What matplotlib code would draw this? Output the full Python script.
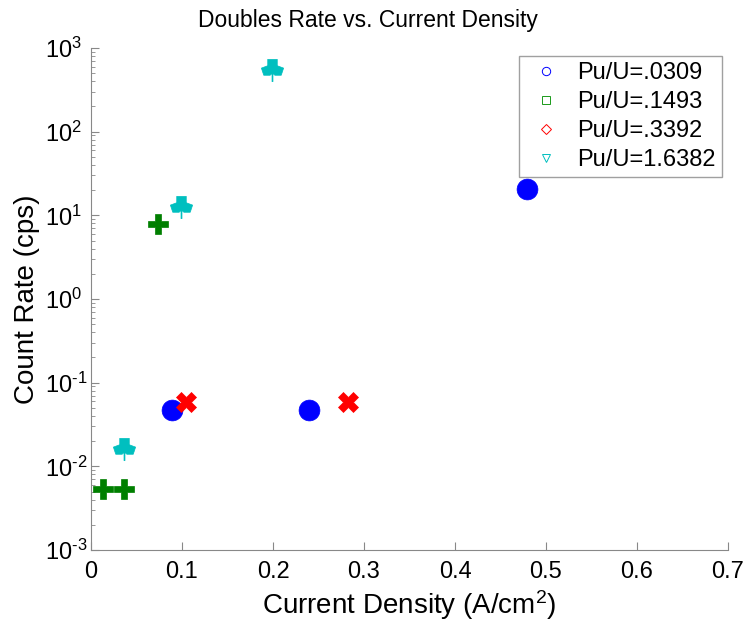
import matplotlib
matplotlib.use("Agg")
import matplotlib.pyplot as plt
from matplotlib.path import Path
from matplotlib.lines import Line2D
from matplotlib.ticker import FuncFormatter
import numpy as np

plt.rcParams['font.family'] = ['Liberation Sans', 'DejaVu Sans']
plt.rcParams['mathtext.default'] = 'regular'

# Data
blue_x = [0.089, 0.240, 0.479]
blue_y = [0.047, 0.047, 20.5]
green_x = [0.013, 0.036, 0.074]
green_y = [0.0053, 0.0053, 7.9]
red_x = [0.104, 0.282]
red_y = [0.058, 0.058]
cyan_x = [0.036, 0.099, 0.199]
cyan_y = [0.0162, 12.5, 540.0]

labels = ['Pu/U=.0309', 'Pu/U=.1493', 'Pu/U=.3392', 'Pu/U=1.6382']
colors = ['#0000ff', '#007f00', '#ff0000', '#00bfbf']
x_ticklabels = ['0', '0.1', '0.2', '0.3', '0.4', '0.5', '0.6', '0.7']

# custom "club" marker for cyan
body = [(-0.3, 0.7), (0.3, 0.7), (0.3, 0.3), (0.7, 0.15), (0.55, -0.3), (0.15, -0.3),
        (0.0, -0.15), (-0.15, -0.3), (-0.55, -0.3), (-0.7, 0.15), (-0.3, 0.3), (-0.3, 0.7)]
stem = [(-0.03, -0.1), (0.03, -0.1), (0.03, -0.7), (-0.03, -0.7), (-0.03, -0.1)]
verts = body + stem
codes = ([Path.MOVETO] + [Path.LINETO] * (len(body) - 2) + [Path.CLOSEPOLY] +
         [Path.MOVETO] + [Path.LINETO] * (len(stem) - 2) + [Path.CLOSEPOLY])
club = Path(verts, codes)

fig = plt.figure(figsize=(7.46, 6.21), dpi=100)
ax = fig.add_axes([91/746, 1-550/621, (728-91)/746, (550-48)/621])

ax.plot(blue_x, blue_y, 'o', color=colors[0], ms=15, mec=colors[0], mew=0.5)
ax.plot(green_x, green_y, 'P', color=colors[1], ms=14, mec=colors[1], mew=0.5)
ax.plot(red_x, red_y, 'X', color=colors[2], ms=14, mec=colors[2], mew=0.5)
ax.plot(cyan_x, cyan_y, marker=club, ls='none', color=colors[3], ms=16, mec=colors[3], mew=0.5)

ax.set_yscale('log')
ax.set_xlim(0, 0.7)
ax.set_ylim(1e-3, 1e3)
ax.set_xticks(np.arange(0, 0.71, 0.1))
ax.set_xticklabels(x_ticklabels)
ax.set_yticks([1e-3, 1e-2, 1e-1, 1e0, 1e1, 1e2, 1e3])


def yfmt(v, p):
    e = int(round(np.log10(v)))
    s = str(abs(e))
    if e < 0:
        s = '\u2010' + s
    return '10$^{' + s + '}$'


ax.yaxis.set_major_formatter(FuncFormatter(yfmt))

for s in ['top', 'right']:
    ax.spines[s].set_visible(False)
for s in ['left', 'bottom']:
    ax.spines[s].set_color('#888888')
ax.tick_params(axis='both', which='both', direction='in', colors='#888888', labelcolor='black', labelsize=17)
ax.tick_params(which='major', length=6)
ax.tick_params(which='minor', length=3)
ax.tick_params(axis='x', pad=8)
ax.tick_params(axis='y', pad=33)
for t in ax.get_yticklabels():
    t.set_horizontalalignment('left')

fig.text(368/746, 1-20/621, 'Doubles Rate vs. Current Density', fontsize=16.5,
         ha='center', va='center')
ax.set_xlabel('Current Density (A/cm$^2$)', fontsize=20)
ax.set_ylabel('Count Rate (cps)', fontsize=20)
ax.yaxis.set_label_coords((40 - 91) / 637, 0.5)

handles = [
    Line2D([], [], ls='none', marker='o', mfc='none', mec=colors[0], ms=6, mew=0.7),
    Line2D([], [], ls='none', marker='s', mfc='none', mec='#1a9a1a', ms=5.5, mew=0.7),
    Line2D([], [], ls='none', marker='D', mfc='none', mec=colors[2], ms=5, mew=0.7),
    Line2D([], [], ls='none', marker='v', mfc='none', mec=colors[3], ms=6, mew=0.7),
]
leg = ax.legend(handles, labels, loc='upper right',
                bbox_to_anchor=(1 - 6/637, 1 - 8/502), borderaxespad=0, fontsize=17,
                frameon=True, fancybox=False, edgecolor='#888888', handletextpad=0.45,
                borderpad=0.25, labelspacing=0.3, handlelength=1.8)
leg.get_frame().set_linewidth(1.0)

fig.savefig('out.png', dpi=100)
